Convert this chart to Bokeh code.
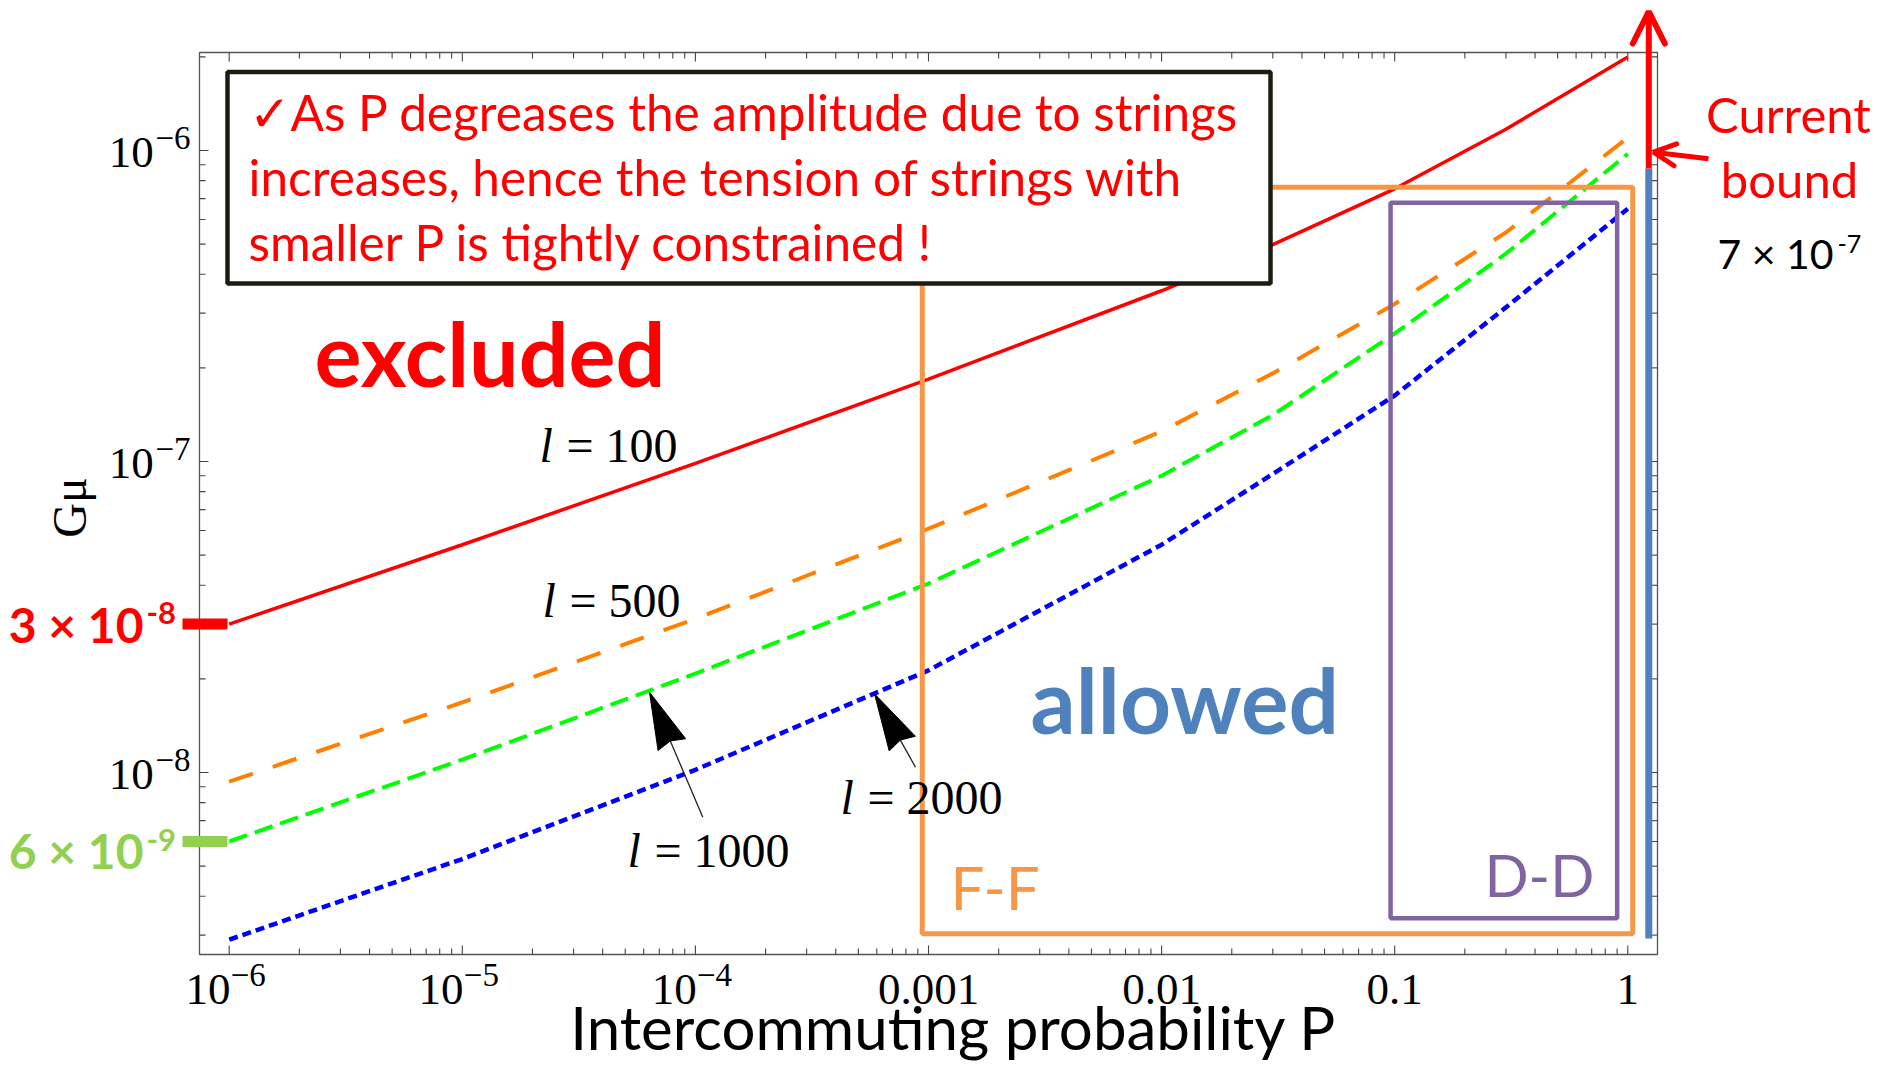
import numpy as np
from bokeh.plotting import figure
from bokeh.models import Range1d, Label, Arrow, OpenHead, BoxAnnotation
from bokeh.embed import file_html
from bokeh.resources import INLINE

# ---------------- data ----------------
P = [1e-6, 1e-5, 1e-4, 1e-3, 1e-2, 3e-2, 1e-1, 3e-1, 1.0]
G_l100 = [3.0e-8, 5.40e-8, 9.86e-8, 1.84e-7, 3.54e-7, 4.98e-7, 7.53e-7, 1.17e-6, 2.0e-6]
G_l500 = [9.35e-9, 1.68e-8, 3.12e-8, 6.08e-8, 1.25e-7, 1.92e-7, 3.21e-7, 5.45e-7, 1.10e-6]
G_l1000 = [6.0e-9, 1.10e-8, 2.08e-8, 4.05e-8, 9.0e-8, 1.41e-7, 2.58e-7, 4.66e-7, 9.75e-7]
G_l2000 = [2.90e-9, 5.27e-9, 1.02e-8, 2.13e-8, 5.4e-8, 9.12e-8, 1.63e-7, 3.13e-7, 6.50e-7]

bound_l100 = 3e-8
bound_l1000 = 6e-9

ff_P = [9.4e-4, 1.05]
ff_G = [3.03e-9, 7.62e-7]
dd_P = [0.096, 0.90]
dd_G = [3.40e-9, 6.79e-7]

x_major = [1e-6, 1e-5, 1e-4, 1e-3, 1e-2, 1e-1, 1.0]
x_major_text = ["10", "10", "10", "0.001", "0.01", "0.1", "1"]
x_major_exp = ["\u22126", "\u22125", "\u22124", "", "", "", ""]
y_major = [1e-8, 1e-7, 1e-6]
y_major_text = ["10", "10", "10"]
y_major_exp = ["\u22128", "\u22127", "\u22126"]

# ---------------- geometry (pixels of the reference picture) ----------------
X0, DX = 228.7, 233.1   # x of P=1e-6 and px per decade
Y0, DY = 772.0, 311.0   # y of Gmu=1e-8 and px per decade
FL, FR, FT, FB = 199, 1657, 52, 954   # plot box edges
W, H = 1873, 1063

def xd(px):
    return 10 ** ((px - X0) / DX - 6)

def yd(py):
    return 10 ** ((Y0 - py) / DY - 8)

def xpx(v):
    return X0 + DX * (np.log10(v) + 6)

def ypx(v):
    return Y0 - DY * (np.log10(v) + 8)

# the drawing area covers the whole canvas so that nothing gets clipped;
# the plot box with its ticks is drawn on the log scales
p = figure(width=W, height=H, x_axis_type="log", y_axis_type="log",
           x_range=Range1d(xd(0), xd(W)), y_range=Range1d(yd(H), yd(0)),
           output_backend="svg", toolbar_location=None,
           x_axis_location=None, y_axis_location=None,
           min_border_left=0, min_border_right=0, min_border_top=0, min_border_bottom=0)
p.grid.visible = False
p.outline_line_color = None
p.background_fill_color = "white"
p.border_fill_color = "white"

xlo, xhi = xd(FL), xd(FR)
ylo, yhi = yd(FB), yd(FT)
x_minor = [m * 10.0 ** k for k in range(-6, 0) for m in range(2, 10)]
x_minor = [v for v in x_minor if xlo < v < xhi]
y_minor = [m * 10.0 ** k for k in range(-10, -5) for m in range(2, 10)]
y_minor = [v for v in y_minor if ylo < v < yhi]

# plot box
p.quad(left=[xlo], right=[xhi], bottom=[ylo], top=[yhi],
       fill_color=None, line_color="#555555", line_width=1.3)
# ticks (inward, on all four sides)
TICK_C = "#444444"
for ticks, ln in [(x_major, 9), (x_minor, 6)]:
    n = len(ticks)
    p.segment(x0=ticks, y0=[ylo] * n, x1=ticks, y1=[yd(FB - ln)] * n, line_color=TICK_C, line_width=1.1)
    p.segment(x0=ticks, y0=[yhi] * n, x1=ticks, y1=[yd(FT + ln)] * n, line_color=TICK_C, line_width=1.1)
for ticks, ln in [(y_major, 9), (y_minor, 6)]:
    n = len(ticks)
    p.segment(x0=[xlo] * n, y0=ticks, x1=[xd(FL + ln)] * n, y1=ticks, line_color=TICK_C, line_width=1.1)
    p.segment(x0=[xhi] * n, y0=ticks, x1=[xd(FR - ln)] * n, y1=ticks, line_color=TICK_C, line_width=1.1)

# ---------------- curves ----------------
p.line(P, G_l100, line_color="#FF0000", line_width=3.5)
p.line(P, G_l500, line_color="#FF8000", line_width=4, line_dash="25 21")
p.line(P, G_l1000, line_color="#00FF00", line_width=4, line_dash="19 8")
p.line(P, G_l2000, line_color="#0000FF", line_width=4.5, line_dash="9 5")

# ---------------- region boxes ----------------
p.quad(left=[ff_P[0]], right=[ff_P[1]], bottom=[ff_G[0]], top=[ff_G[1]],
       fill_color=None, line_color="#F79646", line_width=5)
p.quad(left=[dd_P[0]], right=[dd_P[1]], bottom=[dd_G[0]], top=[dd_G[1]],
       fill_color=None, line_color="#8064A2", line_width=4.5)

# current bound (blue bar + red arrow)
Pb = xd(1648.3)
p.segment(x0=[Pb], y0=[yd(938)], x1=[Pb], y1=[yd(168)], line_color="#4F81BD", line_width=7)
p.add_layout(Arrow(x_start=Pb, y_start=yd(168), x_end=Pb, y_end=yd(11),
                   line_color="#FF0000", line_width=6,
                   end=OpenHead(size=32, line_color="#FF0000", line_width=6, line_cap="round")))
p.add_layout(Arrow(x_start=xd(1708), y_start=yd(158.3), x_end=xd(1653), y_end=yd(151.7),
                   line_color="#FF0000", line_width=5,
                   end=OpenHead(size=22, line_color="#FF0000", line_width=5, line_cap="round")))

# start value bars on the left
p.segment(x0=[xd(182)], y0=[bound_l100], x1=[xd(227)], y1=[bound_l100], line_color="#FF0000", line_width=11)
p.segment(x0=[xd(182)], y0=[bound_l1000], x1=[xd(227)], y1=[bound_l1000], line_color="#92D050", line_width=11)

# black pointer arrows (Mathematica style)
for tip, tail in [((649.0, 691.7), (702.3, 816.7)), ((874.0, 693.3), (915.0, 766.7))]:
    vx, vy = tail[0] - tip[0], tail[1] - tip[1]
    L = np.hypot(vx, vy)
    ux, uy = vx / L, vy / L
    bx, by = tip[0] + 57 * ux, tip[1] + 57 * uy
    nx, ny = -uy, ux
    p.line([xd(bx - 8 * ux), xd(tail[0])], [yd(by - 8 * uy), yd(tail[1])], line_color="#222222", line_width=1.3)
    tri_x = [xd(tip[0]), xd(bx + 15 * nx), xd(bx - 4 * ux), xd(bx - 15 * nx)]
    tri_y = [yd(tip[1]), yd(by + 15 * ny), yd(by - 4 * uy), yd(by - 15 * ny)]
    p.patch(tri_x, tri_y, fill_color="black", line_color="black", line_width=1)

# ---------------- text helpers ----------------
SERIF = "Liberation Serif"
KB = {"Lato": 0.37, SERIF: 0.31}   # renderer baseline correction (fraction of size)

def lab(px, py, text, size, color="black", font="Lato", style="normal", align="left"):
    py2 = py - KB[font] * size
    p.add_layout(Label(x=xd(px), y=yd(py2), text=text, text_font=font,
                       text_font_size=f"{size}px", text_color=color,
                       text_font_style=style, text_align=align,
                       text_baseline="alphabetic"))

# text box
p.add_layout(BoxAnnotation(left=xd(227), right=xd(1270), top=yd(71.5), bottom=yd(283),
                           fill_color="white", fill_alpha=1.0,
                           line_color="#1E1C10", line_alpha=1.0, line_width=4.5))
lab(248, 130, "\u2713As P degreases the amplitude due to strings", 49.5, "#FF0000")
lab(248, 195, "increases, hence the tension of strings with", 49.5, "#FF0000")
lab(248, 260, "smaller P is tightly constrained !", 49.5, "#FF0000")

# big region labels
lab(314, 385, "excluded", 88, "#FF0000", style="bold")
lab(1030, 731.7, "allowed", 89, "#4F81BD", style="bold")
lab(950, 909, "F-F", 60, "#F79646")
lab(1484, 895, "D-D", 58, "#8064A2")

# curve labels
for (lx, bl, txt) in [(539, 460, "= 100"), (542, 615, "= 500"), (627, 865, "= 1000"), (840, 812, "= 2000")]:
    lab(lx, bl, "l", 48, font=SERIF, style="italic")
    lab(lx + 27, bl, txt, 48, font=SERIF)

# current bound text
lab(1788, 132, "Current", 49, "#FF0000", align="center")
lab(1789, 197, "bound", 49, "#FF0000", align="center")
lab(1833, 268, "7 \u00d7 10", 41, "black", align="right")
lab(1837, 253, "-7", 25, "black")

# left value labels
lab(143, 642, "3 \u00d7 10", 48, "#FF0000", style="bold", align="right")
lab(146, 624, "-8", 31, "#FF0000", style="bold")
lab(143, 868, "6 \u00d7 10", 48, "#92D050", style="bold", align="right")
lab(146, 851, "-9", 31, "#92D050", style="bold")

# tick labels
for t, txt, ex in zip(x_major, x_major_text, x_major_exp):
    if ex:
        lab(xpx(t) + 1.3, 1003, txt, 45, font=SERIF, align="right")
        lab(xpx(t) + 1.5, 985, ex, 33, font=SERIF)
    else:
        lab(xpx(t), 1003, txt, 45, font=SERIF, align="center")
for t, txt, ex in zip(y_major, y_major_text, y_major_exp):
    lab(153.3, ypx(t) + 16.3, txt, 45, font=SERIF, align="right")
    lab(155, ypx(t) - 2.7, ex, 33, font=SERIF)

# axis titles
p.add_layout(Label(x=xd(84 - 0.31 * 48), y=yd(507), text="G\u03bc", text_font=SERIF,
                   text_font_size="48px", text_color="black", text_align="center",
                   text_baseline="alphabetic", angle=np.pi / 2))
lab(953, 1049, "Intercommuting probability P", 60, "black", align="center")

open("out.html", "w").write(file_html(p, INLINE))
